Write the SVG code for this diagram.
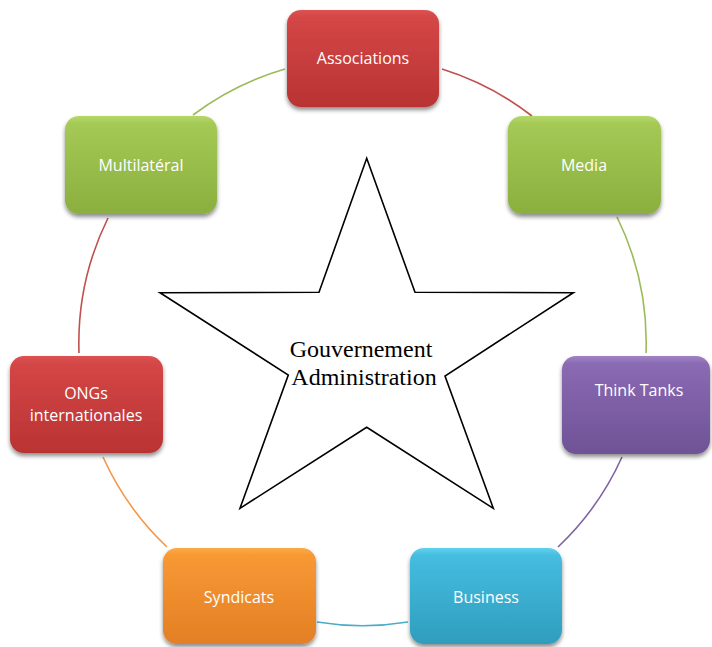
<svg xmlns="http://www.w3.org/2000/svg" width="712" height="647" viewBox="0 0 712 647">
<defs>
<linearGradient id="gRed" x1="0" y1="0" x2="0" y2="1"><stop offset="0" stop-color="#dc5252"/><stop offset="0.08" stop-color="#d44646"/><stop offset="1" stop-color="#b93333"/></linearGradient>
<linearGradient id="gGreen" x1="0" y1="0" x2="0" y2="1"><stop offset="0" stop-color="#b5d86a"/><stop offset="0.08" stop-color="#a5c955"/><stop offset="1" stop-color="#8aaf3e"/></linearGradient>
<linearGradient id="gPurple" x1="0" y1="0" x2="0" y2="1"><stop offset="0" stop-color="#a084c6"/><stop offset="0.08" stop-color="#8a6ab3"/><stop offset="1" stop-color="#6f5296"/></linearGradient>
<linearGradient id="gBlue" x1="0" y1="0" x2="0" y2="1"><stop offset="0" stop-color="#5fd2ee"/><stop offset="0.08" stop-color="#45bde0"/><stop offset="1" stop-color="#2f9dbd"/></linearGradient>
<linearGradient id="gOrange" x1="0" y1="0" x2="0" y2="1"><stop offset="0" stop-color="#fbaa45"/><stop offset="0.08" stop-color="#f89834"/><stop offset="1" stop-color="#e37f25"/></linearGradient>
<filter id="sh" x="-10%" y="-10%" width="125%" height="130%"><feDropShadow dx="0" dy="3" stdDeviation="2" flood-color="#000" flood-opacity="0.45"/></filter>
</defs>
<style>
.box{filter:url(#sh);}
.lbl{font-family:"Open Sans","Liberation Sans",sans-serif;font-size:16px;fill:#ffffff;text-anchor:middle;}
.arc{fill:none;stroke-width:1.6;}
.star{fill:#ffffff;stroke:#000000;stroke-width:1.6;stroke-linejoin:miter;}
.stxt{font-family:"Liberation Serif","Times New Roman",serif;font-size:24px;fill:#000;text-anchor:middle;}
</style>
<rect width="712" height="647" fill="#ffffff"/>
<g id="connectors">
<path class="arc" stroke="#9bbb59" d="M193,115 A284,284 0 0 1 285,69"/>
<path class="arc" stroke="#c0504d" d="M442,69 A284,284 0 0 1 532,116"/>
<path class="arc" stroke="#9bbb59" d="M617,217 A284,284 0 0 1 646,353"/>
<path class="arc" stroke="#8064a2" d="M622,457 A284,284 0 0 1 558,547"/>
<path class="arc" stroke="#4bacc6" d="M408,622 A284,284 0 0 1 317,622"/>
<path class="arc" stroke="#f79646" d="M167,547 A284,284 0 0 1 103,457"/>
<path class="arc" stroke="#c0504d" d="M79,353 A284,284 0 0 1 108,218"/>
</g>
<g id="star">
<polygon class="star" points="366.7,158.3 415,292.3 573.3,292.7 445,376 493.3,508.3 366.7,427.3 240,508.3 288.3,375 160,292.7 319,292.3"/>
<text class="stxt" x="361" y="357">Gouvernement</text>
<text class="stxt" x="364" y="385">Administration</text>
</g>
<g id="associations">
<rect class="box" x="287" y="10" width="152" height="97" rx="14" fill="url(#gRed)"/>
<text class="lbl" x="363" y="64">Associations</text>
</g>
<g id="media">
<rect class="box" x="508" y="116" width="153" height="98" rx="14" fill="url(#gGreen)"/>
<text class="lbl" x="584" y="171">Media</text>
</g>
<g id="multilateral">
<rect class="box" x="65" y="116" width="152" height="98" rx="14" fill="url(#gGreen)"/>
<text class="lbl" x="141" y="171">Multilatéral</text>
</g>
<g id="thinktanks">
<rect class="box" x="562" y="356" width="148" height="98" rx="14" fill="url(#gPurple)"/>
<text class="lbl" x="639" y="396">Think Tanks</text>
</g>
<g id="ongs">
<rect class="box" x="10" y="356" width="153" height="97" rx="14" fill="url(#gRed)"/>
<text class="lbl" x="86" y="399">ONGs</text>
<text class="lbl" x="86" y="421">internationales</text>
</g>
<g id="syndicats">
<rect class="box" x="163" y="548" width="153" height="96" rx="14" fill="url(#gOrange)"/>
<text class="lbl" x="239" y="603">Syndicats</text>
</g>
<g id="business">
<rect class="box" x="410" y="548" width="152" height="96" rx="14" fill="url(#gBlue)"/>
<text class="lbl" x="486" y="603">Business</text>
</g>
</svg>
